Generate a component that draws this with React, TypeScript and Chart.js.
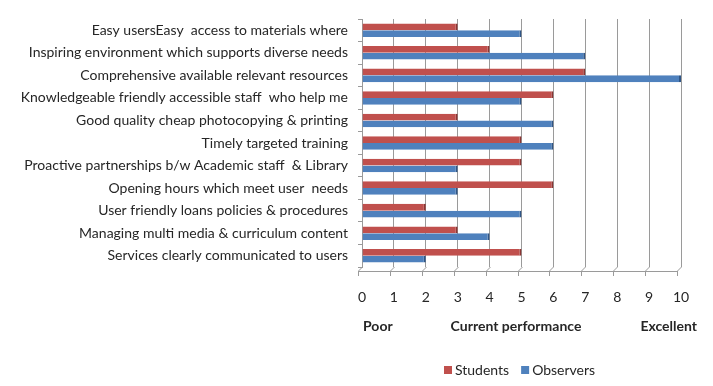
import React, { useEffect, useRef } from "react";
import { Chart, registerables } from "chart.js";

Chart.register(...registerables);

const categories = [
  "Easy usersEasy  access to materials where",
  "Inspiring environment which supports diverse needs",
  "Comprehensive available relevant resources",
  "Knowledgeable friendly accessible staff  who help me",
  "Good quality cheap photocopying & printing",
  "Timely targeted training",
  "Proactive partnerships b/w Academic staff  & Library",
  "Opening hours which meet user  needs",
  "User friendly loans policies & procedures",
  "Managing multi media & curriculum content",
  "Services clearly communicated to users",
];
const students = [3, 4, 7, 6, 3, 5, 5, 6, 2, 3, 5];
const observers = [5, 7, 10, 5, 6, 6, 3, 3, 5, 4, 2];
const xTicks = [0, 1, 2, 3, 4, 5, 6, 7, 8, 9, 10];
const bottomTexts = ["Poor", "Current performance", "Excellent"];
const seriesNames = ["Students", "Observers"];
const seriesColors = ["#C0504D", "#4F81BD"];
const seriesEdges = ["#8c3533", "#2f5687"];

const FONT = "Lato, 'Open Sans', sans-serif";
const TEXT = "#262626";
const GRID = "#9a9a9a";

const depthPlugin = {
  id: "depth",
  afterDraw(chart: any) {
    const { ctx, chartArea } = chart;
    const x = chart.scales.x;
    const dx = -4;
    const dy = 4;
    ctx.save();
    ctx.strokeStyle = GRID;
    ctx.lineWidth = 1;
    const fy = chartArea.bottom + dy;
    ctx.beginPath();
    ctx.moveTo(chartArea.left + dx, fy + 0.5);
    ctx.lineTo(x.getPixelForValue(10) + dx, fy + 0.5);
    ctx.stroke();
    xTicks.forEach((v) => {
      const px = Math.round(x.getPixelForValue(v)) + 0.5;
      ctx.beginPath();
      ctx.moveTo(px, chartArea.bottom);
      ctx.lineTo(px + dx, fy);
      ctx.lineTo(px + dx, fy + 5);
      ctx.stroke();
    });
    // bottom labels
    ctx.fillStyle = TEXT;
    ctx.font = "bold 14px " + FONT;
    ctx.textBaseline = "middle";
    const ty = 326;
    ctx.textAlign = "left";
    ctx.fillText(bottomTexts[0], 363, ty);
    ctx.textAlign = "center";
    ctx.fillText(bottomTexts[1], 516, ty);
    ctx.textAlign = "right";
    ctx.fillText(bottomTexts[2], 697, ty);
    // legend
    ctx.font = "14px " + FONT;
    ctx.textAlign = "left";
    const ly = 370;
    let lx = 444;
    seriesNames.forEach((name, i) => {
      ctx.fillStyle = seriesColors[i];
      ctx.fillRect(lx, ly - 4, 8, 8);
      ctx.fillStyle = TEXT;
      ctx.fillText(name, lx + 11, ly);
      lx += 11 + ctx.measureText(name).width + 12;
    });
    ctx.restore();
  },
};

export default function App() {
  const ref = useRef<HTMLCanvasElement | null>(null);
  useEffect(() => {
    document.body.style.margin = "0";
    const chart = new Chart(ref.current!, {
      type: "bar",
      data: {
        labels: categories,
        datasets: seriesNames.map((name, i) => ({
          label: name,
          data: i === 0 ? students : observers,
          backgroundColor: seriesColors[i],
          borderColor: seriesEdges[i],
          borderWidth: { right: 2, top: 0, bottom: 0, left: 0 },
          borderSkipped: false,
          categoryPercentage: 0.6,
          barPercentage: 1,
        })),
      },
      options: {
        indexAxis: "y",
        animation: false,
        responsive: false,
        maintainAspectRatio: false,
        layout: { padding: { top: 19, right: 32, left: 0, bottom: 0 } },
        plugins: {
          tooltip: { enabled: false },
          legend: { display: false },
        },
        scales: {
          x: {
            min: 0,
            max: 10,
            ticks: {
              stepSize: 1,
              font: { family: FONT, size: 14 },
              color: TEXT,
              padding: 22,
            },
            grid: { color: GRID, drawTicks: false },
            border: { display: false },
            afterFit: (s: any) => {
              s.height = 119;
            },
          },
          y: {
            ticks: {
              font: { family: FONT, size: 14 },
              color: TEXT,
              padding: 10,
              autoSkip: false,
            },
            grid: {
              drawOnChartArea: false,
              color: GRID,
              tickLength: 4,
            },
            border: { color: GRID },
            afterFit: (s: any) => {
              s.width = 362;
            },
          },
        },
      },
      plugins: [depthPlugin],
    });
    return () => chart.destroy();
  }, []);
  return (
    <div style={{ width: 713, height: 386 }}>
      <canvas ref={ref} width={713} height={386} style={{ display: "block" }} />
    </div>
  );
}
